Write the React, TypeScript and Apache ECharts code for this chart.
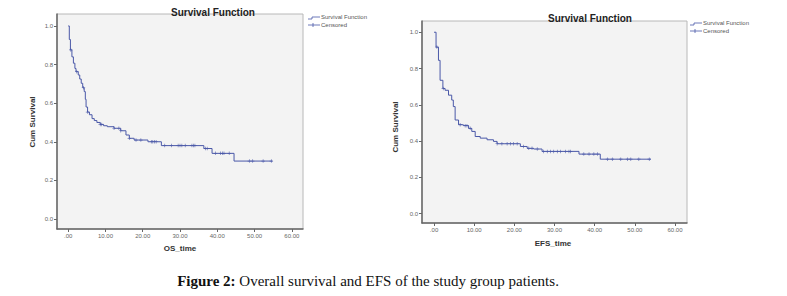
import React, { useEffect, useRef } from "react";
import * as echarts from "echarts";

// Overall survival (OS) Kaplan-Meier step curve
const osTime = [0, 0.3, 0.6, 1.0, 1.4, 1.8, 2.1, 2.7, 3.1, 3.5, 3.9, 4.3, 4.6, 4.8, 5.2, 5.7, 6.4, 7.0, 7.7, 8.6, 9.5, 10.5, 12.3, 14.1, 15.5, 16.4, 17.7, 21.4, 25.0, 36.4, 38.6, 44.5, 54.8];
const osSurv = [1.0, 0.93, 0.876, 0.84, 0.807, 0.78, 0.763, 0.746, 0.725, 0.703, 0.68, 0.66, 0.62, 0.58, 0.554, 0.54, 0.52, 0.51, 0.5, 0.49, 0.483, 0.478, 0.47, 0.457, 0.435, 0.418, 0.409, 0.4, 0.38, 0.365, 0.34, 0.3, 0.3];
const osCensored = [0.7, 2.3, 4.1, 5.2, 8.6, 9.0, 12.3, 13.6, 14.1, 16.4, 18.2, 19.5, 22.3, 22.7, 23.2, 23.6, 25.9, 27.7, 29.5, 30.0, 30.5, 31.4, 33.2, 33.6, 34.0, 36.8, 37.3, 39.5, 40.9, 41.4, 41.8, 43.2, 48.6, 49.5, 52.3, 54.5];

// Event-free survival (EFS)
const efsTime = [0, 0.5, 1.1, 1.5, 2.2, 2.75, 3.6, 4.4, 4.8, 5.25, 6.1, 7.3, 8.6, 9.4, 10.25, 11.5, 13.2, 14.8, 15.7, 21.5, 23.2, 24.8, 26.9, 36.1, 41.4, 54.0];
const efsSurv = [1.0, 0.918, 0.845, 0.735, 0.69, 0.68, 0.653, 0.626, 0.59, 0.516, 0.49, 0.485, 0.47, 0.453, 0.425, 0.416, 0.407, 0.398, 0.385, 0.37, 0.36, 0.356, 0.343, 0.328, 0.3, 0.3];
const efsCensored = [0.7, 2.3, 6.5, 7.75, 8.2, 9.0, 15.7, 16.9, 18.2, 19.0, 19.8, 20.7, 22.3, 23.6, 24.4, 25.7, 27.3, 28.2, 29.0, 29.8, 30.7, 31.5, 32.75, 33.6, 34.0, 37.3, 38.6, 39.8, 40.7, 43.2, 44.4, 46.5, 48.2, 49.0, 51.0, 53.6];

const xTicks = [0, 10, 20, 30, 40, 50, 60];
const yTicks = [0, 0.2, 0.4, 0.6, 0.8, 1.0];

const titleText = "Survival Function";
const legendNames = ["Survival Function", "Censored"];
const yName = "Cum Survival";
const xNames = ["OS_time", "EFS_time"];
const captionBold = "Figure 2:";
const captionRest = " Overall survival and EFS of the study group patients.";

const LINE = "#4a58a8";
const PLUS = "path://M4,0H6V4H10V6H6V10H4V6H0V4H4Z";

function survAt(times: number[], surv: number[], t: number) {
  let s = surv[0];
  for (let i = 0; i < times.length; i++) {
    if (times[i] <= t) s = surv[i];
  }
  return s;
}

function xAxisCfg(gridIndex: number) {
  return {
    type: "value",
    gridIndex,
    min: -3,
    max: 63,
    axisLine: { show: true, onZero: false, lineStyle: { color: "#666", width: 1.5 } },
    axisTick: { show: true, length: 3, customValues: xTicks, lineStyle: { color: "#666" } },
    axisLabel: {
      customValues: xTicks,
      fontSize: 6,
      color: "#666",
      margin: 4,
      fontFamily: "Liberation Sans",
      formatter: (v: number) => (v === 0 ? ".00" : v.toFixed(2)),
    },
    splitLine: { show: false },
  };
}

function yAxisCfg(gridIndex: number) {
  return {
    type: "value",
    gridIndex,
    min: -0.052,
    max: 1.062,
    axisLine: { show: true, onZero: false, lineStyle: { color: "#666", width: 1.5 } },
    axisTick: { show: true, length: 3, customValues: yTicks, lineStyle: { color: "#666" } },
    axisLabel: {
      customValues: yTicks,
      fontSize: 6,
      color: "#666",
      margin: 4,
      fontFamily: "Liberation Sans",
      formatter: (v: number) => v.toFixed(1),
    },
    splitLine: { show: false },
  };
}

function legendGraphic(x: number, y: number) {
  return {
    type: "group",
    x,
    y,
    children: [
      { type: "polyline", shape: { points: [[0, 2], [4, 2], [4, 0], [12, 0]] }, style: { stroke: LINE, lineWidth: 0.8, fill: null } },
      { type: "text", x: 13, y: -3.5, style: { text: legendNames[0], fontSize: 6, fill: "#555", fontFamily: "Liberation Sans" } },
      { type: "line", shape: { x1: 0, y1: 8, x2: 12, y2: 8 }, style: { stroke: LINE, lineWidth: 0.8 } },
      { type: "line", shape: { x1: 5, y1: 6, x2: 5, y2: 10 }, style: { stroke: LINE, lineWidth: 0.8 } },
      { type: "text", x: 13, y: 4.5, style: { text: legendNames[1], fontSize: 6, fill: "#555", fontFamily: "Liberation Sans" } },
    ],
  };
}

export default function App() {
  const ref = useRef<HTMLDivElement>(null);

  useEffect(() => {
    document.body.style.margin = "0";
    if (!ref.current) return;
    const chart = echarts.init(ref.current, null, { renderer: "svg" });

    const osLine = osTime.map((t, i) => [t, osSurv[i]]);
    const efsLine = efsTime.map((t, i) => [t, efsSurv[i]]);
    const osCens = osCensored.map((t) => [t, survAt(osTime, osSurv, t)]);
    const efsCens = efsCensored.map((t) => [t, survAt(efsTime, efsSurv, t)]);

    chart.setOption({
      animation: false,
      backgroundColor: "#ffffff",
      title: [
        { text: titleText, left: 208, top: 2, textAlign: "center", textStyle: { fontSize: 10, fontWeight: "bold", color: "#222", fontFamily: "Liberation Sans" } },
        { text: titleText, left: 585, top: 8, textAlign: "center", textStyle: { fontSize: 10, fontWeight: "bold", color: "#222", fontFamily: "Liberation Sans" } },
      ],
      grid: [
        { left: 57, top: 14, width: 246, height: 215, show: true, backgroundColor: "#f3f3f3", borderColor: "#b8b8b8", borderWidth: 1 },
        { left: 422, top: 21, width: 265, height: 202, show: true, backgroundColor: "#f3f3f3", borderColor: "#b8b8b8", borderWidth: 1 },
      ],
      xAxis: [xAxisCfg(0), xAxisCfg(1)],
      yAxis: [yAxisCfg(0), yAxisCfg(1)],
      series: [
        { type: "line", name: "OS", xAxisIndex: 0, yAxisIndex: 0, step: "end", data: osLine, symbol: "none", lineStyle: { color: LINE, width: 1 } },
        { type: "scatter", name: "OS censored", xAxisIndex: 0, yAxisIndex: 0, data: osCens, symbol: PLUS, symbolSize: 3.5, itemStyle: { color: LINE } },
        { type: "line", name: "EFS", xAxisIndex: 1, yAxisIndex: 1, step: "end", data: efsLine, symbol: "none", lineStyle: { color: LINE, width: 1 } },
        { type: "scatter", name: "EFS censored", xAxisIndex: 1, yAxisIndex: 1, data: efsCens, symbol: PLUS, symbolSize: 3.5, itemStyle: { color: LINE } },
      ],
      graphic: [
        legendGraphic(308, 17),
        legendGraphic(690, 23),
        { type: "text", x: 32, y: 122, rotation: Math.PI / 2, style: { text: yName, fontSize: 8, fontWeight: "bold", fill: "#333", fontFamily: "Liberation Sans", align: "center", verticalAlign: "middle" } },
        { type: "text", x: 395, y: 127, rotation: Math.PI / 2, style: { text: yName, fontSize: 8, fontWeight: "bold", fill: "#333", fontFamily: "Liberation Sans", align: "center", verticalAlign: "middle" } },
        { type: "text", x: 180, y: 248, style: { text: xNames[0], fontSize: 8, fontWeight: "bold", fill: "#333", fontFamily: "Liberation Sans", align: "center", verticalAlign: "middle" } },
        { type: "text", x: 553, y: 243, style: { text: xNames[1], fontSize: 8, fontWeight: "bold", fill: "#333", fontFamily: "Liberation Sans", align: "center", verticalAlign: "middle" } },
        {
          type: "text",
          x: 368,
          y: 281,
          style: {
            text: "{b|" + captionBold + "}{r|" + captionRest + "}",
            align: "center",
            verticalAlign: "middle",
            rich: {
              b: { fontSize: 15, fontWeight: "bold", fill: "#111", fontFamily: "Liberation Serif" },
              r: { fontSize: 15, fill: "#111", fontFamily: "Liberation Serif" },
            },
          },
        },
      ],
    });

    return () => chart.dispose();
  }, []);

  return <div ref={ref} style={{ width: 787, height: 296 }} />;
}
